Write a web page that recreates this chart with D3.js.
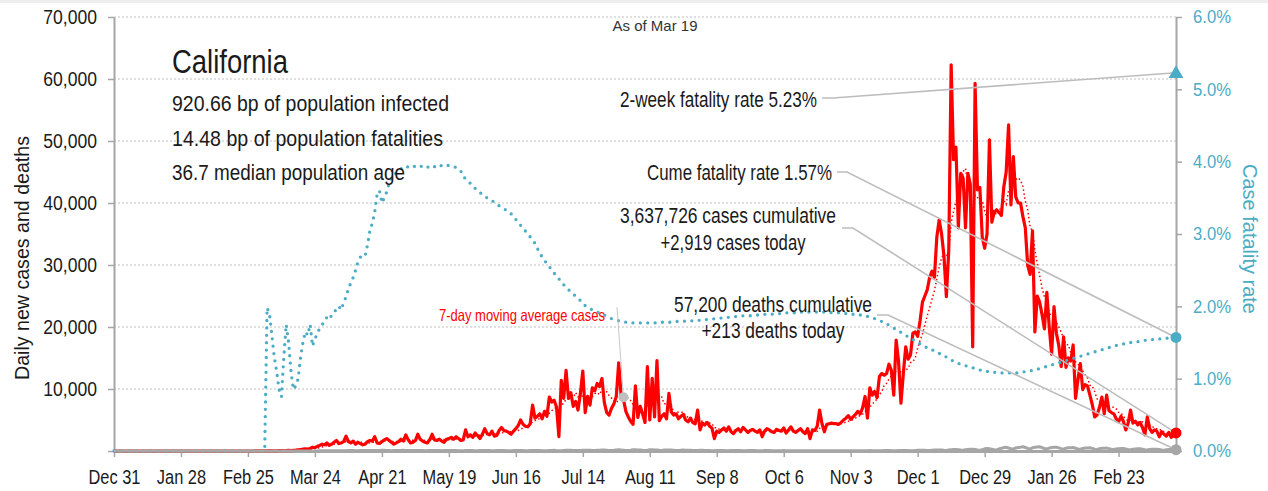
<!DOCTYPE html>
<html>
<head>
<meta charset="utf-8">
<style>
  html, body { margin: 0; padding: 0; background: #fff; }
  svg { display: block; font-family: "Liberation Sans", Arial, sans-serif; }
</style>
</head>
<body>
<div id="chart"></div>
<script src="https://d3js.org/d3.v7.min.js"></script>
<script>
    // daily values, one per day from startDate
    const startDate = '2019-12-31';

    // new cases per day, in thousands
    const dailyCases = [
        0,0,0,0,0,0,0, 0,0,0,0,0,0,0, 0,0,0,0,0,0,0, 0,0,0,0,0,0,0,
        0,0,0,0,0,0,0, 0,0,0,0,0,0,0, 0,0,0,0,0,0,0, 0,0,0,0,0,0,0,
        0,0,0,0.01,0.01,0.02,0.03, 0.02,0.03,0.05,0.02,0.04,0.03,0.05,
        0.06,0.04,0.07,0.1,0.06,0.1,0.14, 0.2,0.21,0.3,0.35,0.3,0.4,0.6,
        0.55,0.75,0.9,1.1,1.0,1.3,0.9, 1.1,1.4,1.7,1.2,1.3,1.5,2.4,
        1.5,1.3,1.6,1.1,1.4,1.2,1.0, 1.1,1.5,1.7,1.6,2.3,1.3,1.2,
        1.5,1.8,2.0,1.7,1.4,1.1,1.3, 1.5,1.9,1.6,2.6,1.8,1.3,1.4,
        1.7,2.7,1.9,1.6,1.4,1.3,1.8, 2.7,1.8,1.7,1.9,1.6,1.4,1.9,
        2.0,2.2,1.9,2.3,2.0,1.7,1.8, 3.4,2.3,2.6,2.2,2.9,2.5,2.0,
        2.7,3.6,2.8,2.6,3.2,2.4,2.5, 3.3,3.8,3.3,3.2,3.0,2.7,3.2,
        3.6,4.1,5.0,4.3,4.0,3.9,4.4, 7.4,5.3,5.6,6.0,5.2,6.4,5.6,
        8.7,7.9,8.2,7.1,2.3,11.4,8.5, 13.0,8.5,9.4,7.2,8.0,6.6,9.3,
        12.9,6.2,8.8,7.4,10.2,9.7,10.9, 10.4,11.7,7.8,6.2,5.8,6.9,7.6,
        8.8,14.2,9.0,8.3,6.4,5.5,4.8, 4.3,10.5,5.4,7.2,6.0,4.6,13.6,
        5.0,11.7,5.5,14.6,4.9,5.6,6.0, 5.2,9.3,6.3,5.8,6.0,5.2,5.6,
        5.9,5.0,4.7,5.3,4.6,4.4,6.6, 3.4,4.5,4.2,4.6,4.0,3.7,2.0,
        3.2,3.0,3.4,3.7,3.2,3.9,3.1, 2.8,3.3,3.6,3.1,3.8,3.4,3.0,
        3.3,3.5,3.2,3.0,3.4,2.3,3.2, 3.6,3.4,3.1,3.0,3.5,3.3,3.2,
        3.7,2.9,3.4,3.9,3.2,3.0,3.3, 3.6,3.1,2.8,3.6,2.0,3.4,3.3,
        4.0,6.6,4.4,3.1,4.3,4.4,4.5, 4.4,4.4,4.3,4.6,5.0,5.3,5.7,
        5.1,5.5,5.9,6.4,6.0,7.0,8.8, 5.3,10.2,9.0,9.6,8.6,12.0,12.5,
        12.2,12.5,14.0,13.0,9.0,17.9,14.5, 7.7,12.5,16.8,14.8,15.5,19.0,19.2,
        18.5,21,24,25,26,28,29, 28,34.5,37.3,35,31.4,24.9,32.4,
        62.3,47,49,36,44.8,44,36, 44.8,43,16.8,59.3,42.1,42.5,34.5,
        32.7,35,50.2,36.9,38.5,38.9,38.5, 38.0,42.6,45,52.6,39.7,47.5,41,
        40,40,37.8,36,29.9,28.5,35.5, 19.2,25,24,22,19.7,25.6,20,
        15.6,23.3,19,17,13.6,18.4,13.5, 15,14.5,17.1,8.5,11.5,14.1,9.9,
        10.7,10.5,9.0,7.5,5.5,5.8,7.0, 8.7,6.0,9.0,6.5,6.2,6.0,5.2,
        4.7,5.6,4.8,3.4,4.5,6.6,4.5, 4.8,4.2,4.6,3.8,2.6,5.5,3.6,
        3.0,3.4,3.2,2.3,3.1,2.7,2.4, 3.0,2.2,2.6,2.919
    ];

    // new deaths per day
    const dailyDeaths = [
        0,0,0,0,0,0,0, 0,0,0,0,0,0,0, 0,0,0,0,0,0,0, 0,0,0,0,0,0,0,
        0,0,0,0,0,0,0, 0,0,0,0,0,0,0, 0,0,0,0,0,0,0, 0,0,0,0,0,0,0,
        0,0,0,0,0,0,0, 0,0,1,0,1,1,1, 2,1,2,3,2,3,4, 5,6,4,8,10,12,14,
        18,20,25,22,30,35,28, 40,45,50,38,42,60,55, 70,65,80,60,55,90,75,
        85,95,100,70,65,88,92, 105,110,95,80,60,75,90, 100,95,110,85,70,80,90,
        95,100,85,75,60,70,95, 90,85,80,70,55,65,80, 85,90,75,70,60,50,60,
        80,85,90,70,55,60,75, 80,70,75,65,50,55,70, 75,80,70,60,45,50,65,
        70,80,85,75,50,55,70, 75,80,90,70,50,45,60, 85,100,110,60,40,35,70,
        110,130,120,100,70,65,95, 120,140,130,110,80,75,110, 130,160,150,120,90,80,120,
        170,200,180,140,100,85,130, 210,190,170,150,110,95,140, 200,220,180,160,115,100,150,
        170,160,145,130,95,85,120, 150,140,130,110,85,70,100, 120,110,100,90,70,40,60,
        95,100,90,80,60,55,85, 90,85,80,70,55,50,75, 80,75,70,60,45,40,65,
        70,65,60,55,40,35,60, 65,60,55,50,40,35,55, 60,55,50,45,35,30,50,
        55,50,45,45,35,30,50, 55,50,45,40,30,30,50, 55,50,45,40,35,30,55,
        60,65,55,50,40,35,60, 70,80,75,60,45,40,70, 90,100,95,80,60,55,90,
        110,120,130,110,90,80,120, 150,170,180,160,120,100,160, 200,230,250,220,170,140,210,
        260,300,280,250,150,120,230, 350,400,380,300,200,180,330, 450,550,600,480,350,300,500,
        560,620,700,560,420,350,520, 600,650,680,540,400,330,480, 560,600,620,500,380,300,450,
        520,540,560,450,340,280,400, 480,500,520,420,300,250,360, 430,450,470,380,280,230,320,
        380,400,420,330,250,200,290, 330,350,360,290,220,170,250, 270,290,300,240,180,140,200,
        230,250,220,213
    ];

    // cumulative case fatality rate, percent
    const fatalityRate = [
        0,0,0,0,0,0,0, 0,0,0,0,0,0,0, 0,0,0,0,0,0,0, 0,0,0,0,0,0,0,
        0,0,0,0,0,0,0, 0,0,0,0,0,0,0, 0,0,0,0,0,0,0, 0,0,0,0,0,0,0,
        0,0,0,0,0,0,0,
        0,1.98,1.9,1.6,1.3,1.1,0.85, 0.75,1.3,1.75,1.5,1.1,0.85,0.9,
        1.0,1.3,1.5,1.65,1.6,1.75,1.45, 1.55,1.62,1.7,1.75,1.78,1.85,1.82,
        1.88,1.9,1.98,2.0,1.95,2.05,2.13, 2.25,2.32,2.4,2.5,2.62,2.68,2.71,
        2.7,2.85,3.05,3.15,3.3,3.55,3.6, 3.43,3.5,3.58,3.7,3.78,3.8,3.85,
        3.88,3.9,3.93,3.92,3.93,3.92,3.94, 3.93,3.92,3.94,3.93,3.91,3.92,3.94,
        3.95,3.93,3.94,3.96,3.94,3.93,3.94, 3.95,3.94,3.93,3.92,3.9,3.87,3.8,
        3.76,3.73,3.7,3.66,3.63,3.6,3.57, 3.55,3.52,3.5,3.48,3.46,3.44,3.42,
        3.39,3.37,3.35,3.33,3.31,3.28,3.24, 3.2,3.16,3.12,3.08,3.04,3.0,2.96,
        2.92,2.87,2.8,2.74,2.68,2.64,2.58, 2.55,2.5,2.46,2.42,2.38,2.34,2.3,
        2.26,2.23,2.2,2.17,2.14,2.11,2.08, 2.04,2.01,1.99,1.97,1.95,1.93,1.92,
        1.91,1.9,1.88,1.86,1.84,1.83,1.82, 1.81,1.8,1.79,1.79,1.78,1.78,1.77,
        1.77,1.77,1.77,1.77,1.77,1.77,1.77, 1.77,1.77,1.77,1.77,1.77,1.78,1.78,
        1.78,1.78,1.78,1.79,1.79,1.79,1.79, 1.79,1.8,1.8,1.8,1.8,1.8,1.8,
        1.81,1.81,1.81,1.82,1.82,1.82,1.83, 1.83,1.83,1.84,1.84,1.84,1.85,1.85,
        1.85,1.86,1.86,1.86,1.87,1.87,1.87, 1.87,1.88,1.88,1.88,1.88,1.88,1.89,
        1.89,1.89,1.89,1.9,1.9,1.9,1.9, 1.9,1.91,1.91,1.91,1.91,1.91,1.91,
        1.92,1.92,1.92,1.92,1.92,1.92,1.92, 1.92,1.92,1.92,1.92,1.92,1.92,1.91,
        1.91,1.91,1.91,1.91,1.91,1.9,1.9, 1.9,1.89,1.89,1.88,1.88,1.87,1.86,
        1.86,1.85,1.84,1.83,1.82,1.81,1.79, 1.78,1.76,1.74,1.72,1.7,1.68,1.66,
        1.64,1.62,1.6,1.58,1.56,1.54,1.52, 1.5,1.48,1.46,1.44,1.43,1.41,1.4,
        1.38,1.37,1.35,1.33,1.31,1.3,1.28, 1.26,1.24,1.22,1.21,1.2,1.19,1.18,
        1.17,1.16,1.15,1.14,1.13,1.12,1.11, 1.11,1.1,1.1,1.09,1.09,1.08,1.08,
        1.08,1.08,1.08,1.08,1.08,1.08,1.08, 1.08,1.09,1.09,1.1,1.1,1.11,1.11,
        1.12,1.13,1.14,1.15,1.16,1.17,1.18, 1.19,1.2,1.21,1.22,1.23,1.24,1.25,
        1.26,1.27,1.28,1.29,1.3,1.31,1.32, 1.33,1.34,1.35,1.36,1.37,1.38,1.39,
        1.4,1.41,1.42,1.43,1.44,1.45,1.46, 1.46,1.47,1.48,1.48,1.49,1.5,1.5,
        1.51,1.51,1.52,1.52,1.53,1.53,1.54, 1.54,1.54,1.55,1.55,1.55,1.56,1.56,
        1.56,1.57,1.57,1.57
    ];

    const stateName = 'California';
    const stateFacts = ['920.66 bp of population infected', '14.48 bp of population fatalities', '36.7 median population age'];
    const twoWeekRate = 5.23;
    const cumeRate = 1.57;
    const casesCumulative = 3637726;
    const deathsCumulative = 57200;
    const maMarkerDate = '2020-07-31';
    const tickEveryDays = 28;
    const leftTicks = [0, 10000, 20000, 30000, 40000, 50000, 60000, 70000];
    const rightTicks = [0, 1, 2, 3, 4, 5, 6];

    const red = '#ff0000', blue = '#4bacc6', grey = '#a6a6a6', leader = '#bdbdbd', ink = '#1a1a1a';

    const parse = d3.utcParse('%Y-%m-%d');
    const t0 = parse(startDate);
    const day = i => d3.utcDay.offset(t0, i);
    const n = dailyCases.length;
    const last = n - 1;

    const cases = dailyCases.map((v, i) => ({ date: day(i), v: v * 1000 }));
    const deaths = dailyDeaths.map((v, i) => ({ date: day(i), v: v }));
    const cfr = fatalityRate.map((v, i) => ({ date: day(i), v: v }));
    const movingAvg = cases.map((d, i) => ({
        date: d.date,
        v: d3.mean(cases.slice(Math.max(0, i - 6), i + 1), c => c.v)
    }));

    const W = 1268, H = 491;
    const svg = d3.select('#chart').append('svg')
        .attr('width', W)
        .attr('height', H);

    svg.append('rect').attr('width', W).attr('height', 3).attr('fill', '#eeeeee');

    const x = d3.scaleUtc().domain([t0, day(last)]).range([114, 1176]);
    const y = d3.scaleLinear().domain([0, 70000]).range([451, 17]);
    const y2 = d3.scaleLinear().domain([0, 6]).range([451, 17]);

    // squeeze text horizontally (narrow look)
    const squeeze = (sel, k) => sel.each(function () {
        const w = this.getComputedTextLength();
        d3.select(this).attr('textLength', w * k).attr('lengthAdjust', 'spacingAndGlyphs');
    });

    // gridlines
    svg.append('g').selectAll('line')
        .data(leftTicks.slice(1))
        .enter().append('line')
        .attr('x1', 114).attr('x2', 1176)
        .attr('y1', d => y(d)).attr('y2', d => y(d))
        .attr('stroke', '#bfbfbf')
        .attr('stroke-width', 1)
        .attr('stroke-dasharray', '2,2');

    const styleAxis = (g, size) => {
        g.select('.domain').attr('stroke', grey).attr('stroke-width', 2);
        g.selectAll('.tick line').attr('stroke', grey).attr('stroke-width', 1.5);
        g.selectAll('text').attr('font-size', size).attr('font-family', null);
    };

    const xTicks = d3.range(0, n, tickEveryDays).map(day);
    const gx = svg.append('g')
        .attr('transform', 'translate(0,451)')
        .call(d3.axisBottom(x).tickValues(xTicks).tickFormat(d3.utcFormat('%b %-d')).tickSize(6).tickSizeOuter(0))
        .call(g => styleAxis(g, 20.5));
    gx.select('.domain').attr('stroke-width', 3);
    gx.selectAll('text').attr('y', 33).attr('dy', 0).attr('fill', ink).call(squeeze, 0.8);

    svg.append('g')
        .attr('transform', 'translate(114,0)')
        .call(d3.axisLeft(y).tickValues(leftTicks).tickFormat(d => d ? d3.format(',')(d) : '').tickSize(6).tickPadding(11).tickSizeOuter(0))
        .call(g => styleAxis(g, 19.5))
        .selectAll('text').attr('fill', ink).call(squeeze, 0.9);

    svg.append('g')
        .attr('transform', 'translate(1176,0)')
        .call(d3.axisRight(y2).tickValues(rightTicks).tickFormat(d => d3.format('.1f')(d) + '%').tickSize(6).tickPadding(11).tickSizeOuter(0))
        .call(g => styleAxis(g, 18.5))
        .selectAll('text').attr('fill', blue).call(squeeze, 0.9);

    // text helper: width is the measured width in the picture
    const txt = (s, px, py, size, anchor, color, width) => {
        const t = svg.append('text')
            .attr('x', px).attr('y', py)
            .attr('font-size', size)
            .attr('text-anchor', anchor || 'start')
            .attr('fill', color || ink)
            .text(s);
        if (width) t.attr('textLength', width).attr('lengthAdjust', 'spacingAndGlyphs');
        return t;
    };

    // axis titles
    txt('Daily new cases and deaths', 0, 0, 20.5, 'middle', ink, 244)
        .attr('transform', 'translate(29,258) rotate(-90)');
    txt('Case fatality rate', 0, 0, 20.5, 'middle', blue, 150)
        .attr('transform', 'translate(1243,239) rotate(90)');

    const lineY = d3.line().x(d => x(d.date)).y(d => y(d.v));
    const lineY2 = d3.line().x(d => x(d.date)).y(d => y2(d.v));

    svg.append('path').datum(cases)
        .attr('fill', 'none').attr('stroke', red).attr('stroke-width', 3.2)
        .attr('stroke-linejoin', 'round')
        .attr('d', lineY);

    svg.append('path').datum(movingAvg)
        .attr('fill', 'none').attr('stroke', red).attr('stroke-width', 1.5)
        .attr('stroke-dasharray', '1.5,2.5')
        .attr('d', lineY);

    svg.append('path').datum(cfr)
        .attr('fill', 'none').attr('stroke', blue).attr('stroke-width', 3.3)
        .attr('stroke-linecap', 'round')
        .attr('stroke-dasharray', '0,7.4')
        .attr('d', lineY2);

    svg.append('path').datum(deaths)
        .attr('fill', 'none').attr('stroke', grey).attr('stroke-width', 3)
        .attr('stroke-linejoin', 'round')
        .attr('d', lineY);

    // leader lines
    const xe = x(day(last));
    const leaders = [
        [[822, 98], [833, 98], [xe, y2(twoWeekRate)]],
        [[837, 172], [847, 172], [xe, y2(cfr[last].v)]],
        [[842, 228], [853, 228], [xe, y(cases[last].v)]],
        [[877, 315], [888, 315], [xe, y(deaths[last].v)]]
    ];
    svg.append('g').selectAll('path')
        .data(leaders)
        .enter().append('path')
        .attr('fill', 'none').attr('stroke', leader).attr('stroke-width', 1.6)
        .attr('d', d3.line());

    const maPoint = movingAvg.find(d => +d.date === +parse(maMarkerDate));
    svg.append('line')
        .attr('x1', 617).attr('y1', 307)
        .attr('x2', x(maPoint.date)).attr('y2', y(maPoint.v))
        .attr('stroke', '#c8c8c8').attr('stroke-width', 1);
    svg.append('circle')
        .attr('cx', x(maPoint.date)).attr('cy', y(maPoint.v)).attr('r', 5)
        .attr('fill', '#bfbfbf');

    // end markers
    svg.append('path')
        .attr('d', d3.symbol(d3.symbolTriangle).size(95))
        .attr('transform', `translate(${xe},${y2(twoWeekRate) + 1})`)
        .attr('fill', blue);
    svg.append('circle').attr('cx', xe).attr('cy', y2(cfr[last].v)).attr('r', 5.5).attr('fill', blue);
    svg.append('circle').attr('cx', xe).attr('cy', y(cases[last].v)).attr('r', 5.5).attr('fill', red);
    svg.append('circle').attr('cx', xe).attr('cy', y(deaths[last].v)).attr('r', 5.5).attr('fill', grey);

    // annotations
    const fmt = d3.format(',');
    txt('As of ' + d3.utcFormat('%b %-d')(day(last)), 655, 31, 15, 'middle', '#333', 85);
    txt(stateName, 172, 73, 33, 'start', ink, 116);
    txt(stateFacts[0], 172, 111, 22.5, 'start', ink, 277);
    txt(stateFacts[1], 172, 146, 22.5, 'start', ink, 271);
    txt(stateFacts[2], 172, 180, 22.5, 'start', ink, 233);
    txt('2-week fatality rate ' + twoWeekRate.toFixed(2) + '%', 817, 107, 21.5, 'end', ink, 197);
    txt('Cume fatality rate ' + cumeRate.toFixed(2) + '%', 832, 180, 21.5, 'end', ink, 185);
    txt(fmt(casesCumulative) + ' cases cumulative', 728, 223, 21.5, 'middle', ink, 216);
    txt('+' + fmt(Math.round(cases[last].v)) + ' cases today', 733, 250, 21.5, 'middle', ink, 145);
    txt(fmt(deathsCumulative) + ' deaths cumulative', 773, 312, 21.5, 'middle', ink, 198);
    txt('+' + fmt(deaths[last].v) + ' deaths today', 773, 338, 21.5, 'middle', ink, 143);
    txt('7-day moving average cases', 605, 321, 16.5, 'end', red, 166);
</script>
</body>
</html>
